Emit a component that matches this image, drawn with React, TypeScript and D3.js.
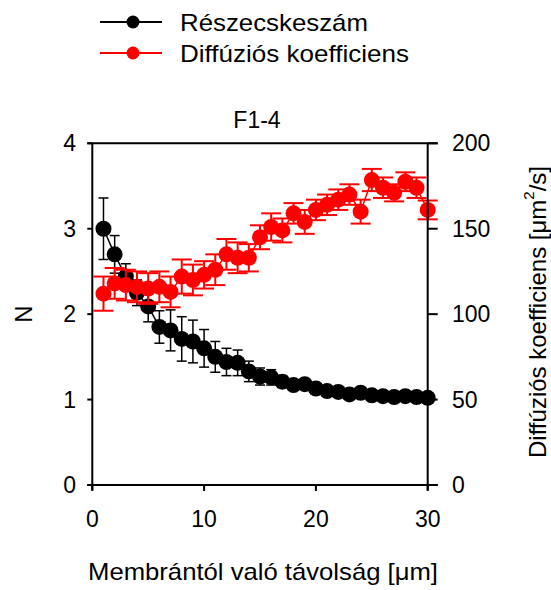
import React from "react";
import * as d3 from "d3";

const distances = d3.range(1, 31);
const nValues = [3.0, 2.7, 2.44, 2.25, 2.09, 1.85, 1.81, 1.71, 1.68, 1.6, 1.5, 1.44, 1.43, 1.33, 1.27, 1.26, 1.21, 1.17, 1.18, 1.13, 1.1, 1.09, 1.06, 1.08, 1.05, 1.04, 1.03, 1.04, 1.03, 1.02];
const nErrors = [0.36, 0.22, 0.15, 0.15, 0.18, 0.19, 0.24, 0.26, 0.25, 0.22, 0.18, 0.16, 0.15, 0.12, 0.1, 0.09, 0.07, 0.05, 0.05, 0.04, 0.04, 0.03, 0.03, 0.03, 0.03, 0.02, 0.02, 0.02, 0.02, 0.02];
const dValues = [112, 118, 117, 116, 115, 116, 113, 122, 120, 123, 126, 135, 133, 133, 145, 151, 149, 159, 154, 161, 164, 167, 170, 160, 178.5, 174, 171, 177.5, 174, 161];
const dErrors = [10, 9, 9, 9, 9, 9, 9, 10, 9, 8, 9, 9, 9, 8, 7, 8, 7, 6, 7, 6, 6, 6, 6, 7, 6.5, 6, 5, 5.5, 6, 5.5];
const xTicks = [0, 10, 20, 30];
const leftTicks = [0, 1, 2, 3, 4];
const rightTicks = [0, 50, 100, 150, 200];
const seriesNames = ["Részecskeszám", "Diffúziós koefficiens"];
const title = "F1-4";
const xTitle = "Membrántól való távolság [μm]";
const leftTitle = "N";

const FONT = "Arial, 'Liberation Sans', sans-serif";

export default function App() {
  const L = 92.3, R = 427.7, T = 143.3, B = 485;
  const x = d3.scaleLinear().domain([0, 30]).range([L, R]);
  const yL = d3.scaleLinear().domain([0, 4]).range([B, T]);
  const yR = d3.scaleLinear().domain([0, 200]).range([B, T]);

  const nData = distances.map((d, i) => ({ x: d, v: nValues[i], e: nErrors[i] }));
  const dData = distances.map((d, i) => ({ x: d, v: dValues[i], e: dErrors[i] }));

  const nLine = d3.line<any>().x((d) => x(d.x)).y((d) => yL(d.v))(nData) || "";
  const dLine = d3.line<any>().x((d) => x(d.x)).y((d) => yR(d.v))(dData) || "";

  const red = "#ff0000";
  const r = 8;

  return (
    <svg width={551} height={590} style={{ position: "absolute", left: 0, top: 0, background: "#fff" }} fontFamily={FONT}>
      <rect width={551} height={590} fill="#fff" />
      {/* legend */}
      <g>
        <line x1={100} x2={162} y1={22} y2={22} stroke="#000" strokeWidth={2} />
        <circle cx={133} cy={22} r={6.5} fill="#000" />
        <text x={180} y={22} dominantBaseline="central" fontSize={24} textLength={188} lengthAdjust="spacingAndGlyphs">{seriesNames[0]}</text>
        <line x1={100} x2={162} y1={53} y2={53} stroke={red} strokeWidth={2} />
        <circle cx={133} cy={53} r={6.5} fill={red} />
        <text x={180} y={53} dominantBaseline="central" fontSize={24} textLength={229} lengthAdjust="spacingAndGlyphs">{seriesNames[1]}</text>
      </g>
      <text x={257} y={128} textAnchor="middle" fontSize={23}>{title}</text>

      {/* black series */}
      <path d={nLine} fill="none" stroke="#000" strokeWidth={1.5} />
      {nData.map((d, i) => (
        <g key={"ne" + i} stroke="#000" strokeWidth={1.5}>
          <line x1={x(d.x)} x2={x(d.x)} y1={yL(d.v - d.e)} y2={yL(d.v + d.e)} />
          <line x1={x(d.x) - 5} x2={x(d.x) + 5} y1={yL(d.v + d.e)} y2={yL(d.v + d.e)} />
          <line x1={x(d.x) - 5} x2={x(d.x) + 5} y1={yL(d.v - d.e)} y2={yL(d.v - d.e)} />
        </g>
      ))}
      {nData.map((d, i) => (
        <circle key={"nc" + i} cx={x(d.x)} cy={yL(d.v)} r={r} fill="#000" />
      ))}

      {/* red series */}
      <path d={dLine} fill="none" stroke={red} strokeWidth={1.5} />
      {dData.map((d, i) => (
        <g key={"de" + i} stroke={red} strokeWidth={2}>
          <line x1={x(d.x)} x2={x(d.x)} y1={yR(d.v - d.e)} y2={yR(d.v + d.e)} />
          <line x1={x(d.x) - 10} x2={x(d.x) + 10} y1={yR(d.v + d.e)} y2={yR(d.v + d.e)} />
          <line x1={x(d.x) - 10} x2={x(d.x) + 10} y1={yR(d.v - d.e)} y2={yR(d.v - d.e)} />
        </g>
      ))}
      {dData.map((d, i) => (
        <circle key={"dc" + i} cx={x(d.x)} cy={yR(d.v)} r={r} fill={red} />
      ))}

      {/* frame / axes */}
      <g stroke="#000" strokeWidth={2}>
        <line x1={L - 5} x2={R + 10} y1={T} y2={T} />
        <line x1={L - 5} x2={R + 10} y1={B} y2={B} />
        <line x1={L} x2={L} y1={T} y2={B + 5} />
        <line x1={R} x2={R} y1={T} y2={B + 5} />
        {leftTicks.map((t) => (
          <line key={"lt" + t} x1={L - 5} x2={L} y1={yL(t)} y2={yL(t)} />
        ))}
        {rightTicks.map((t) => (
          <line key={"rt" + t} x1={R} x2={R + 10} y1={yR(t)} y2={yR(t)} />
        ))}
        {xTicks.map((t) => (
          <line key={"xt" + t} x1={x(t)} x2={x(t)} y1={B} y2={B + 6} />
        ))}
      </g>
      {leftTicks.map((t) => (
        <text key={"ll" + t} x={76} y={yL(t)} textAnchor="end" dominantBaseline="central" fontSize={23}>{t}</text>
      ))}
      {rightTicks.map((t) => (
        <text key={"rl" + t} x={452} y={yR(t)} textAnchor="start" dominantBaseline="central" fontSize={23}>{t}</text>
      ))}
      {xTicks.map((t) => (
        <text key={"xl" + t} x={x(t)} y={527} textAnchor="middle" fontSize={23}>{t}</text>
      ))}
      <text x={263} y={580} textAnchor="middle" fontSize={24} textLength={350} lengthAdjust="spacingAndGlyphs">{xTitle}</text>
      <text transform="translate(23,314) rotate(-90)" textAnchor="middle" dominantBaseline="central" fontSize={24}>{leftTitle}</text>
      <text transform="translate(537,312) rotate(-90)" textAnchor="middle" dominantBaseline="central" fontSize={24}>
        Diffúziós koefficiens [μm<tspan dy={-9} fontSize={15}>2</tspan><tspan dy={9}>/s]</tspan>
      </text>
    </svg>
  );
}
